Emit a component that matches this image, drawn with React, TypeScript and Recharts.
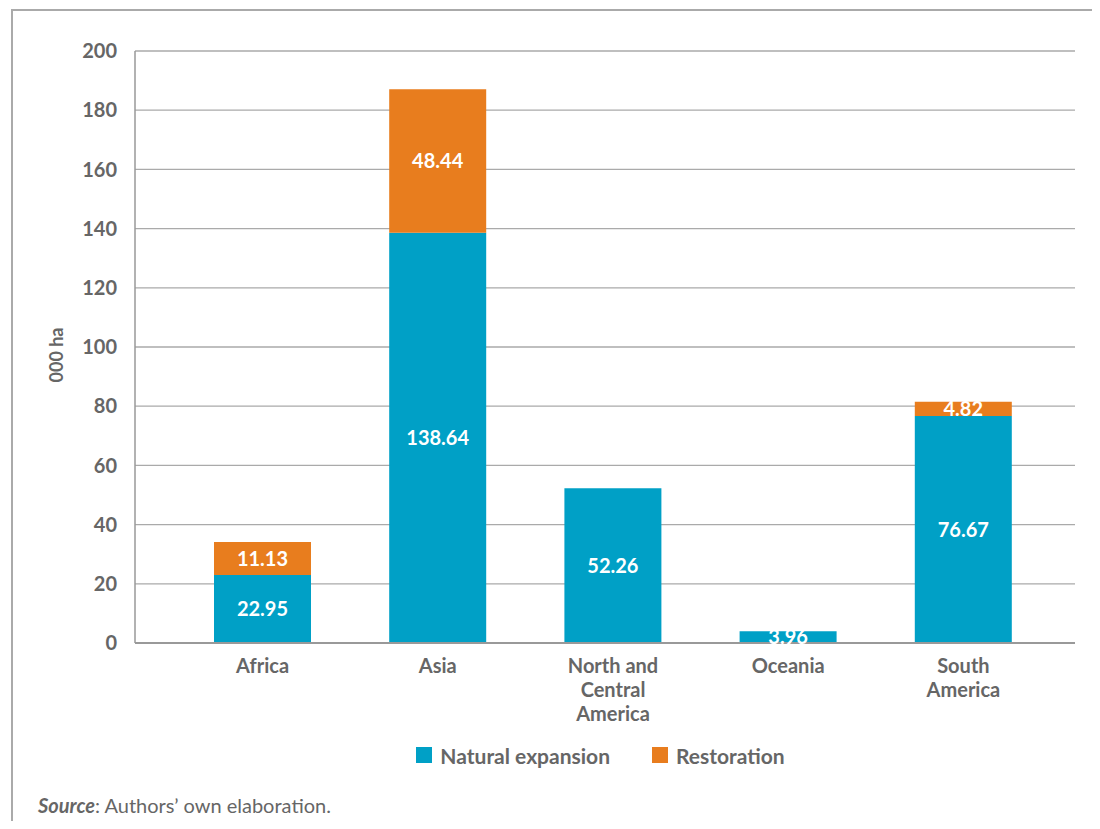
import { BarChart, Bar, XAxis, YAxis, CartesianGrid, Legend, LabelList, Label, Text } from "recharts";

const regions = ["Africa", "Asia", "North and Central America", "Oceania", "South America"];
const naturalExpansion = [22.95, 138.64, 52.26, 3.96, 76.67];
const restoration = [11.13, 48.44, null, null, 4.82];
const yTicks = [0, 20, 40, 60, 80, 100, 120, 140, 160, 180, 200];

const BLUE = "#00A0C6";
const ORANGE = "#E87D1E";
const GREY_TEXT = "#666";
const FONT = "Lato, 'Noto Sans', sans-serif";

const data = regions.map((region, i) => ({
  region,
  natural: naturalExpansion[i],
  restoration: restoration[i],
}));

const tickStyle = { fontSize: 20, fontWeight: 700, fontFamily: FONT };

function RegionTick(props: any) {
  const { x, y, payload } = props;
  return (
    <Text
      x={x}
      y={y}
      width={100}
      textAnchor="middle"
      verticalAnchor="start"
      lineHeight={24}
      fill={GREY_TEXT}
      style={tickStyle}
      {...tickStyle}
    >
      {payload.value}
    </Text>
  );
}

function ChartLegend() {
  const items = [
    { name: "Natural expansion", color: BLUE },
    { name: "Restoration", color: ORANGE },
  ];
  return (
    <div
      style={{
        display: "flex",
        justifyContent: "center",
        gap: 42,
        height: 30,
        alignItems: "center",
        paddingLeft: 126,
      }}
    >
      {items.map((it) => (
        <div key={it.name} style={{ display: "flex", alignItems: "center" }}>
          <span style={{ width: 16, height: 16, background: it.color, marginRight: 8, display: "inline-block" }} />
          <span style={{ fontFamily: FONT, fontSize: 21, fontWeight: 700, color: GREY_TEXT }}>{it.name}</span>
        </div>
      ))}
    </div>
  );
}

const fmt = (v: any) => (v == null ? "" : Number(v).toFixed(2));

export default function App() {
  return (
    <div style={{ position: "relative", width: 1100, height: 829, margin: -8, background: "#fff", overflow: "hidden" }}>
      <div
        style={{
          position: "absolute",
          left: 11,
          top: 9,
          right: -5,
          bottom: -5,
          borderLeft: "2px solid #aaa",
          borderTop: "2px solid #aaa",
        }}
      />
      <div style={{ position: "absolute", left: 0, top: 0 }}>
        <BarChart width={1100} height={790} data={data} margin={{ top: 51, right: 25, left: 0, bottom: 20 }}>
          <CartesianGrid vertical={false} stroke="#aaa" strokeWidth={1.3} />
          <XAxis
            dataKey="region"
            height={97}
            padding={{ left: 40, right: 24 }}
            tickLine={false}
            axisLine={{ stroke: "#999", strokeWidth: 2 }}
            tick={<RegionTick />}
            tickMargin={10}
            interval={0}
          />
          <YAxis
            width={135}
            domain={[0, 200]}
            ticks={yTicks}
            tickLine={false}
            axisLine={{ stroke: "#999", strokeWidth: 1.5 }}
            tickMargin={12}
            tick={{ fill: GREY_TEXT, ...tickStyle }}
          >
            <Label
              value="000 ha"
              angle={-90}
              position="center"
              dx={-11}
              dy={8}
              style={{ fill: GREY_TEXT, fontSize: 18, fontWeight: 700, fontFamily: FONT }}
            />
          </YAxis>
          <Legend verticalAlign="bottom" content={() => <ChartLegend />} />
          <Bar dataKey="natural" stackId="a" fill={BLUE} barSize={97} isAnimationActive={false}>
            <LabelList
              dataKey="natural"
              position="center"
              formatter={fmt}
              fill="#fff"
              fontSize={20}
              fontWeight={700}
              fontFamily={FONT}
            />
          </Bar>
          <Bar dataKey="restoration" stackId="a" fill={ORANGE} barSize={97} isAnimationActive={false}>
            <LabelList
              dataKey="restoration"
              position="center"
              formatter={fmt}
              fill="#fff"
              fontSize={20}
              fontWeight={700}
              fontFamily={FONT}
            />
          </Bar>
        </BarChart>
      </div>
      <div
        style={{
          position: "absolute",
          left: 38,
          top: 793,
          fontFamily: FONT,
          fontSize: 20,
          color: GREY_TEXT,
        }}
      >
        <span style={{ fontStyle: "italic", fontWeight: 700 }}>Source</span>: Authors’ own elaboration.
      </div>
    </div>
  );
}
